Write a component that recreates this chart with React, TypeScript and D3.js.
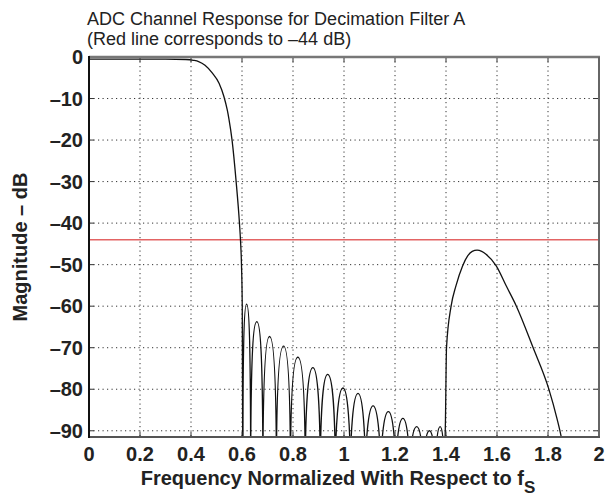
import React from 'react';
import * as d3 from 'd3';

const W = 608;
const H = 499;
const plot = { left: 89, right: 599, top: 57, bottom: 437 };

// Axis ticks
const xTicks = [0, 0.2, 0.4, 0.6, 0.8, 1, 1.2, 1.4, 1.6, 1.8, 2];
const xTickLabels = ['0', '0.2', '0.4', '0.6', '0.8', '1', '1.2', '1.4', '1.6', '1.8', '2'];
const yTicks = [0, -10, -20, -30, -40, -50, -60, -70, -80, -90];
const yTickLabels = ['0', '–10', '–20', '–30', '–40', '–50', '–60', '–70', '–80', '–90'];

const refLevelDb = -44;

// Passband + transition band
const passF = [0, 0.1, 0.2, 0.3, 0.38, 0.41, 0.43, 0.455, 0.484, 0.51, 0.529, 0.542, 0.549, 0.561, 0.577, 0.59, 0.594, 0.598, 0.601, 0.603];
const passDb = [-0.5, -0.5, -0.5, -0.5, -0.6, -0.8, -1.1, -2.0, -3.9, -6.3, -9.5, -12.7, -15, -20, -30, -40, -44, -50, -60, -100];

// Stopband side lobes: nulls and peaks
const lobeNullF = [0.603, 0.634, 0.682, 0.735, 0.79, 0.848, 0.907, 0.966, 1.025, 1.084, 1.144, 1.203, 1.258, 1.311, 1.358, 1.394];
const lobePeakF = [0.618, 0.658, 0.708, 0.763, 0.819, 0.878, 0.936, 0.996, 1.055, 1.114, 1.174, 1.231, 1.285, 1.335, 1.377];
const lobePeakDb = [-59.5, -63.7, -67.3, -69.6, -72.3, -74.8, -76.4, -79.7, -81, -84, -85.4, -87, -89, -90, -89];
const nullDb = -100;

// Image band lobe around 1.5 fs
const imgF = [1.394, 1.398, 1.402, 1.42, 1.439, 1.465, 1.485, 1.503, 1.522, 1.54, 1.557, 1.597, 1.636, 1.676, 1.741, 1.803, 1.835, 1.852, 1.865];
const imgDb = [-100, -87, -70, -60, -55.1, -50.3, -47.9, -46.8, -46.5, -46.8, -47.5, -50.3, -55.1, -60, -69.9, -79.9, -87, -91.5, -96];

const FONT = '"Liberation Sans", Arial, Helvetica, sans-serif';

export default function App() {
  const x = d3.scaleLinear().domain([0, 2]).range([plot.left, plot.right]);
  const y = d3.scaleLinear().domain([-91.5, 0]).range([plot.bottom, plot.top]);

  const line = d3
    .line<[number, number]>()
    .x((d) => x(d[0]))
    .y((d) => y(d[1]))
    .curve(d3.curveMonotoneX);

  const passPath = line(passF.map((f, i) => [f, passDb[i]] as [number, number])) || '';
  const imgPath = line(imgF.map((f, i) => [f, imgDb[i]] as [number, number])) || '';

  const p = d3.path();
  const yb = y(nullDb);
  const tenDb = y(-10) - y(0);
  p.moveTo(x(lobeNullF[0]), yb);
  lobePeakF.forEach((pf, i) => {
    const x0 = x(lobeNullF[i]);
    const x1 = x(lobeNullF[i + 1]);
    const xp = x(pf);
    const yp = y(lobePeakDb[i]);
    const h1 = xp - x0;
    const h2 = x1 - xp;
    const drop = Math.min(tenDb, (yb - yp) * 0.6);
    p.bezierCurveTo(x0 + 0.02 * h1, yp + drop, x0 + 0.35 * h1, yp, xp, yp);
    p.bezierCurveTo(xp + 0.65 * h2, yp, x1 - 0.02 * h2, yp + drop, x1, yb);
  });
  const lobePath = p.toString();

  const gridX = xTicks.filter((t) => t > 0 && t < 2);
  const gridY = yTicks.filter((t) => t < 0);

  return (
    <svg width={W} height={H} style={{ display: 'block', position: 'absolute', left: 0, top: 0 }} fontFamily={FONT}>
      <rect x={0} y={0} width={W} height={H} fill="#fff" />
      <defs>
        <clipPath id="plotClip">
          <rect x={plot.left} y={plot.top} width={plot.right - plot.left} height={plot.bottom - plot.top} />
        </clipPath>
      </defs>

      {/* grid */}
      <g stroke="#333" strokeWidth={1} strokeDasharray="1.2,3.3">
        {gridX.map((t) => (
          <line key={'gx' + t} x1={x(t)} x2={x(t)} y1={plot.top} y2={plot.bottom} />
        ))}
        {gridY.map((t) => (
          <line key={'gy' + t} x1={plot.left} x2={plot.right} y1={y(t)} y2={y(t)} />
        ))}
      </g>

      {/* reference line */}
      <line x1={plot.left} x2={plot.right} y1={y(refLevelDb)} y2={y(refLevelDb)} stroke="#e36464" strokeWidth={1.6} />

      {/* response */}
      <g clipPath="url(#plotClip)" fill="none" stroke="#111" strokeWidth={1.3}>
        <path d={passPath} />
        <path d={lobePath} />
        <path d={imgPath} />
      </g>

      {/* ticks */}
      <g stroke="#333" strokeWidth={1}>
        {xTicks.map((t) => (
          <g key={'tx' + t}>
            <line x1={x(t)} x2={x(t)} y1={plot.bottom} y2={plot.bottom - 5} />
            <line x1={x(t)} x2={x(t)} y1={plot.top} y2={plot.top + 5} />
          </g>
        ))}
        {yTicks.map((t) => (
          <g key={'ty' + t}>
            <line x1={plot.left} x2={plot.left + 5} y1={y(t)} y2={y(t)} />
            <line x1={plot.right} x2={plot.right - 5} y1={y(t)} y2={y(t)} />
          </g>
        ))}
      </g>

      {/* frame */}
      <line x1={plot.left} x2={plot.right + 1} y1={plot.top} y2={plot.top} stroke="#777" strokeWidth={2.5} />
      <line x1={plot.right} x2={plot.right} y1={plot.top} y2={plot.bottom + 1} stroke="#666" strokeWidth={2} />
      <line x1={plot.left} x2={plot.right + 1} y1={plot.bottom} y2={plot.bottom} stroke="#555" strokeWidth={2} />
      <line x1={plot.left} x2={plot.left} y1={plot.top - 1} y2={plot.bottom + 1} stroke="#111" strokeWidth={2} />

      {/* tick labels */}
      <g fontSize={20} fontWeight="bold" fill="#222">
        {xTicks.map((t, i) => (
          <text key={'lx' + t} x={x(t)} y={461} textAnchor="middle">
            {xTickLabels[i]}
          </text>
        ))}
        {yTicks.map((t, i) => (
          <text key={'ly' + t} x={83} y={y(t) + 7} textAnchor="end">
            {yTickLabels[i]}
          </text>
        ))}
      </g>

      {/* axis titles */}
      <text x={(plot.left + plot.right) / 2 - 6} y={485} textAnchor="middle" fontSize={20} fontWeight="bold" fill="#222">
        Frequency Normalized With Respect to f
        <tspan fontSize={17} dy={8}>S</tspan>
      </text>
      <text
        transform={`translate(27, ${(plot.top + plot.bottom) / 2}) rotate(-90)`}
        textAnchor="middle"
        fontSize={20}
        fontWeight="bold"
        fill="#222"
      >
        Magnitude – dB
      </text>

      {/* title */}
      <g fontSize={18} fill="#222">
        <text x={87} y={25}>ADC Channel Response for Decimation Filter A</text>
        <text x={87} y={45}>(Red line corresponds to –44 dB)</text>
      </g>
    </svg>
  );
}
